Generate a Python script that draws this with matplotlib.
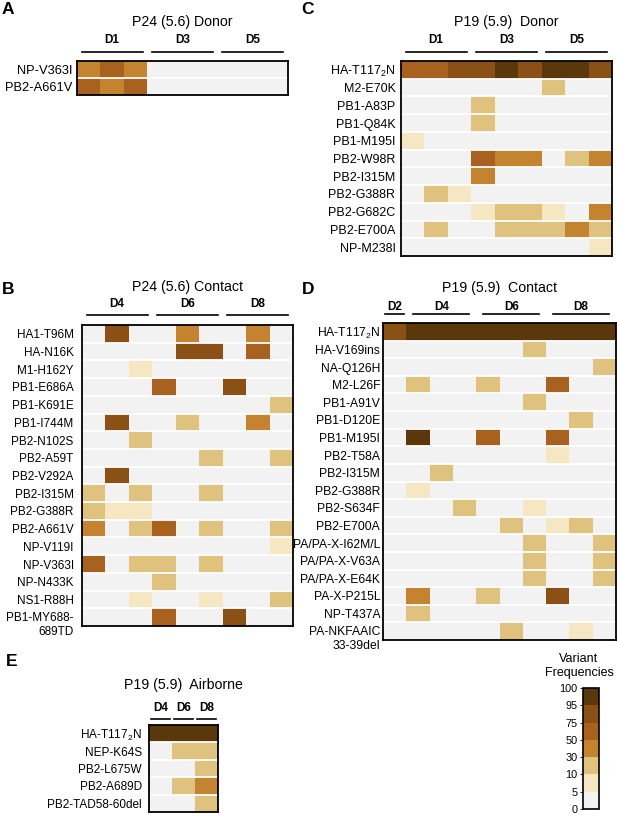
import numpy as np
import matplotlib as mpl
import matplotlib.pyplot as plt
from matplotlib.colors import ListedColormap, BoundaryNorm
from matplotlib.transforms import blended_transform_factory

plt.rcParams['font.family'] = ['Liberation Sans', 'DejaVu Sans']
plt.rcParams['mathtext.fontset'] = 'custom'
plt.rcParams['mathtext.rm'] = 'Liberation Sans'
plt.rcParams['mathtext.it'] = 'Liberation Sans:italic'
plt.rcParams['mathtext.bf'] = 'Liberation Sans:bold'

# ---------------- data (variant frequencies, %) ----------------
levels = [0, 5, 10, 30, 50, 75, 95, 100]
bin_colors = ['#f2f2f2', '#f6e7c3', '#dfc27d', '#c4842f', '#a8611f', '#8a5015', '#5a380b']

a_rows = ['NP-V363I', 'PB2-A661V']
a_days = ['D1', 'D3', 'D5']
a_ncols = [3, 3, 3]
a_vals = [[40, 60, 40, 0, 0, 0, 0, 0, 0],
          [60, 40, 60, 0, 0, 0, 0, 0, 0]]

c_rows = ['HA-T117$_2$N', 'M2-E70K', 'PB1-A83P', 'PB1-Q84K', 'PB1-M195I', 'PB2-W98R',
          'PB2-I315M', 'PB2-G388R', 'PB2-G682C', 'PB2-E700A', 'NP-M238I']
c_days = ['D1', 'D3', 'D5']
c_ncols = [3, 3, 3]
c_vals = [[60, 60, 85, 85, 98, 85, 98, 98, 85],
          [0, 0, 0, 0, 0, 0, 20, 0, 0],
          [0, 0, 0, 20, 0, 0, 0, 0, 0],
          [0, 0, 0, 20, 0, 0, 0, 0, 0],
          [7, 0, 0, 0, 0, 0, 0, 0, 0],
          [0, 0, 0, 60, 40, 40, 0, 20, 40],
          [0, 0, 0, 40, 0, 0, 0, 0, 0],
          [0, 20, 7, 0, 0, 0, 0, 0, 0],
          [0, 0, 0, 7, 20, 20, 7, 0, 40],
          [0, 20, 0, 0, 20, 20, 20, 40, 20],
          [0, 0, 0, 0, 0, 0, 0, 0, 7]]

b_rows = ['HA1-T96M', 'HA-N16K', 'M1-H162Y', 'PB1-E686A', 'PB1-K691E', 'PB1-I744M',
          'PB2-N102S', 'PB2-A59T', 'PB2-V292A', 'PB2-I315M', 'PB2-G388R', 'PB2-A661V',
          'NP-V119I', 'NP-V363I', 'NP-N433K', 'NS1-R88H', 'PB1-MY688-\n689TD']
b_days = ['D4', 'D6', 'D8']
b_ncols = [3, 3, 3]
b_vals = [[0, 85, 0, 0, 40, 0, 0, 40, 0],
          [0, 0, 0, 0, 85, 85, 0, 60, 0],
          [0, 0, 7, 0, 0, 0, 0, 0, 0],
          [0, 0, 0, 60, 0, 0, 85, 0, 0],
          [0, 0, 0, 0, 0, 0, 0, 0, 20],
          [0, 85, 0, 0, 20, 0, 0, 40, 0],
          [0, 0, 20, 0, 0, 0, 0, 0, 0],
          [0, 0, 0, 0, 0, 20, 0, 0, 20],
          [0, 85, 0, 0, 0, 0, 0, 0, 0],
          [20, 0, 20, 0, 0, 20, 0, 0, 0],
          [20, 7, 7, 0, 0, 0, 0, 0, 0],
          [40, 0, 20, 60, 0, 20, 0, 0, 20],
          [0, 0, 0, 0, 0, 0, 0, 0, 7],
          [60, 0, 20, 20, 0, 20, 0, 0, 0],
          [0, 0, 0, 20, 0, 0, 0, 0, 0],
          [0, 0, 7, 0, 0, 7, 0, 0, 20],
          [0, 0, 0, 60, 0, 0, 85, 0, 0]]

d_rows = ['HA-T117$_2$N', 'HA-V169ins', 'NA-Q126H', 'M2-L26F', 'PB1-A91V', 'PB1-D120E',
          'PB1-M195I', 'PB2-T58A', 'PB2-I315M', 'PB2-G388R', 'PB2-S634F', 'PB2-E700A',
          'PA/PA-X-I62M/L', 'PA/PA-X-V63A', 'PA/PA-X-E64K', 'PA-X-P215L', 'NP-T437A',
          'PA-NKFAAIC\n33-39del']
d_days = ['D2', 'D4', 'D6', 'D8']
d_ncols = [1, 3, 3, 3]
d_vals = [[85, 98, 98, 98, 98, 98, 98, 98, 98, 98],
          [0, 0, 0, 0, 0, 0, 20, 0, 0, 0],
          [0, 0, 0, 0, 0, 0, 0, 0, 0, 20],
          [0, 20, 0, 0, 20, 0, 0, 60, 0, 0],
          [0, 0, 0, 0, 0, 0, 20, 0, 0, 0],
          [0, 0, 0, 0, 0, 0, 0, 0, 20, 0],
          [0, 98, 0, 0, 60, 0, 0, 60, 0, 0],
          [0, 0, 0, 0, 0, 0, 0, 7, 0, 0],
          [0, 0, 20, 0, 0, 0, 0, 0, 0, 0],
          [0, 7, 0, 0, 0, 0, 0, 0, 0, 0],
          [0, 0, 0, 20, 0, 0, 7, 0, 0, 0],
          [0, 0, 0, 0, 0, 20, 0, 7, 20, 0],
          [0, 0, 0, 0, 0, 0, 20, 0, 0, 20],
          [0, 0, 0, 0, 0, 0, 20, 0, 0, 20],
          [0, 0, 0, 0, 0, 0, 20, 0, 0, 20],
          [0, 40, 0, 0, 20, 0, 0, 85, 0, 0],
          [0, 20, 0, 0, 0, 0, 0, 0, 0, 0],
          [0, 0, 0, 0, 0, 20, 0, 0, 7, 0]]

e_rows = ['HA-T117$_2$N', 'NEP-K64S', 'PB2-L675W', 'PB2-A689D', 'PB2-TAD58-60del']
e_days = ['D4', 'D6', 'D8']
e_ncols = [1, 1, 1]
e_vals = [[98, 98, 98],
          [0, 20, 20],
          [0, 0, 20],
          [0, 20, 40],
          [0, 0, 20]]

# ---------------- figure ----------------
W, H = 617, 816
fig = plt.figure(figsize=(W / 100, H / 100), dpi=100)
cmap = ListedColormap(bin_colors)
norm = BoundaryNorm(levels, cmap.N)


def px_axes(x0, y0, x1, y1):
    return fig.add_axes([x0 / W, 1 - y1 / H, (x1 - x0) / W, (y1 - y0) / H])


def heatmap(box, rows, vals, title, days, ncols, pad=4, inset=0.2, fs=9,
            line_off=9, lab_off=21, title_off=38):
    ax = px_axes(*box)
    h_px = box[3] - box[1]
    arr = np.array(vals, dtype=float)
    nr, nc = arr.shape
    ax.pcolormesh(np.arange(nc + 1), np.arange(nr + 1), arr, cmap=cmap, norm=norm)
    ax.set_xlim(0, nc)
    ax.set_ylim(nr, 0)
    for i in range(1, nr):
        ax.axhline(i, color='white', lw=1.3)
    for s in ax.spines.values():
        s.set_linewidth(1.3)
        s.set_color('black')
    ax.set_xticks([])
    ax.set_yticks(np.arange(nr) + 0.5)
    labels = [r if '\n' not in r else '' for r in rows]
    ax.set_yticklabels(labels, fontsize=fs)
    ax.tick_params(axis='y', length=0, pad=pad)
    # two-line labels: first line sits on the row, second hangs below
    for i, r in enumerate(rows):
        if '\n' in r:
            ax.annotate(r, xy=(0, i + 0.5), xycoords=('axes fraction', 'data'),
                        xytext=(-pad, 3.5), textcoords='offset points',
                        ha='right', va='top', fontsize=fs, multialignment='right',
                        linespacing=1.2, annotation_clip=False)
    tr = blended_transform_factory(ax.transData, ax.transAxes)
    start = 0
    for day, n in zip(days, ncols):
        ins = inset if n > 1 else 0.08
        ax.plot([start + ins, start + n - ins], [1 + line_off / h_px] * 2,
                color='black', lw=1.2, transform=tr, clip_on=False)
        ax.text(start + n / 2, 1 + lab_off / h_px, day, transform=tr,
                ha='center', va='center', fontsize=8.5, fontweight='bold')
        start += n
    ax.text(0.5, 1 + title_off / h_px, title, transform=ax.transAxes,
            ha='center', va='center', fontsize=10.2)
    return ax


heatmap((77, 61, 288, 95), a_rows, a_vals, 'P24 (5.6) Donor', a_days, a_ncols,
        pad=3, fs=9.3, line_off=9, lab_off=21, title_off=39)
heatmap((401, 61, 612, 256), c_rows, c_vals, 'P19 (5.9)  Donor', c_days, c_ncols,
        pad=4, fs=9, line_off=9, lab_off=21, title_off=39)
heatmap((82, 325, 293, 626), b_rows, b_vals, 'P24 (5.6) Contact', b_days, b_ncols,
        pad=6, fs=8.5, line_off=10, lab_off=21, title_off=38)
heatmap((383, 323, 616, 640), d_rows, d_vals, 'P19 (5.9)  Contact', d_days, d_ncols,
        pad=2, inset=0.3, fs=8.7, line_off=9, lab_off=16, title_off=35)
heatmap((149, 725, 218, 812), e_rows, e_vals, 'P19 (5.9)  Airborne', e_days, e_ncols,
        pad=5, fs=8.5, line_off=6, lab_off=17, title_off=40)

# panel letters
for letter, x, y in [('A', 8, 9), ('C', 308, 9), ('B', 8, 290), ('D', 308, 290), ('E', 12, 661)]:
    fig.text(x / W, 1 - y / H, letter, fontsize=12.5, fontweight='bold',
             ha='center', va='center')

# colorbar
cax = px_axes(583, 688, 599, 809)
cb = mpl.colorbar.ColorbarBase(cax, cmap=cmap, norm=norm, boundaries=levels,
                               ticks=levels, spacing='uniform',
                               orientation='vertical', ticklocation='left')
cb.ax.tick_params(labelsize=7.8, length=2, width=0.6, pad=2)
cb.outline.set_linewidth(1.2)
fig.text(579 / W, 1 - 666 / H, 'Variant\nFrequencies', ha='center', va='center',
         fontsize=9, linespacing=1.15)

fig.savefig('out.png', dpi=100, facecolor='white')
